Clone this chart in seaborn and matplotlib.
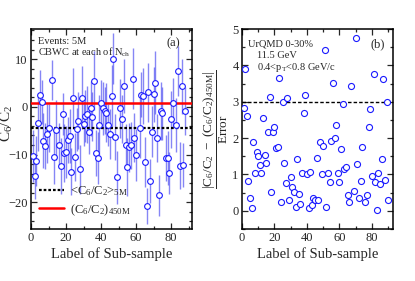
import matplotlib
matplotlib.use("Agg")
import matplotlib.pyplot as plt
from matplotlib.lines import Line2D
from matplotlib.ticker import MultipleLocator
import pandas as pd
import seaborn as sns

# panel (a): C6/C2 of each 5M-event sub-sample and its error
label_a = [1, 2, 3, 4, 5, 6, 7, 8, 9, 10,
           12, 13, 14, 16, 17, 18, 19, 20, 21, 22,
           23, 24, 25, 26, 27, 28, 29, 30, 31, 32,
           33, 34, 35, 36, 37, 38, 39, 40, 41, 42,
           43, 44, 45, 46, 47, 48, 49, 51, 52, 53,
           54, 55, 56, 57, 58, 59, 60, 62, 63, 64,
           65, 66, 67, 68, 69, 70, 71, 72, 73, 74,
           75, 77, 78, 79, 80, 81, 83, 84, 85, 86,
           87, 88]
c6c2 = [-10.3, -14.6, -11.3, -3.3, 2.4, 1.0, -7.1, -8.2, -5.6, -4.4,
        5.7, -10.5, -4.9, -8.1, -12.4, -1.6, -9.7, -9.5, -6.9, -6.1,
        -13.6, 1.8, -10.5, -4.7, -2.9, -13.1, 1.9, -3.5, -1.9, -1.6,
        -5.2, -0.3, -2.1, 5.5, -9.7, -10.7, -3.9, 0.9, -0.3, -0.8,
        -1.2, -3.9, -5.7, 2.2, 10.1, -6.4, -14.8, -0.3, -2.5, 4.4,
        -8.1, -12.6, -8.5, -8.1, 5.9, -6.5, -10.1, -4.4, 2.5, 2.3,
        -11.6, -20.8, 3.0, -15.5, -5.2, 2.6, 5.0, -6.6, -18.5, -0.8,
        -1.4, -10.7, -10.7, -13.8, -2.6, 0.8, -3.8, 7.5, -12.3, 4.3,
        -12.1, -0.9]
c6c2_err = [5.5, 4.8, 5.2, 6.0, 5.3, 4.6, 5.8, 4.9, 6.2, 5.0,
            4.2, 5.6, 6.3, 4.7, 5.9, 4.4, 6.1, 5.4, 4.8, 5.7,
            4.9, 6.4, 5.1, 4.5, 5.9, 5.2, 6.6, 4.8, 5.5, 6.0,
            4.6, 5.8, 5.1, 6.2, 4.9, 5.4, 6.3, 4.7, 5.6, 5.0,
            6.1, 4.4, 5.3, 6.5, 5.3, 4.8, 5.6, 6.2, 5.0, 5.7,
            4.6, 6.0, 5.2, 4.9, 6.4, 5.1, 5.5, 6.3, 4.7, 5.9,
            5.2, 3.8, 6.2, 4.6, 5.4, 5.8, 6.6, 5.0, 4.3, 6.1,
            5.5, 4.8, 5.7, 4.4, 6.0, 5.3, 5.6, 5.2, 4.9, 5.8,
            4.6, 5.1]

mean_5m = -4.5      # <C6/C2> over all 5M sub-samples
value_450m = 0.7    # C6/C2 from the full 450M sample

# panel (b): |C6/C2 - (C6/C2)_450M| / Error for each sub-sample
label_b = [1, 2, 3, 4, 5, 6, 7, 8, 9, 10,
           11, 12, 13, 14, 15, 16, 17, 18, 19, 20,
           21, 22, 23, 24, 25, 26, 27, 28, 29, 30,
           31, 32, 33, 34, 35, 36, 37, 38, 39, 40,
           41, 42, 43, 44, 45, 46, 47, 48, 49, 50,
           51, 52, 53, 54, 55, 56, 57, 58, 59, 60,
           61, 62, 63, 64, 65, 66, 67, 69, 70, 71,
           72, 73, 74, 76, 77, 78, 79, 80, 81, 82,
           83, 84, 85, 86, 87, 88, 89, 90]
deviation = [2.84, 3.91, 2.61, 0.81, 0.35, 0.07, 1.88, 1.03, 1.63, 1.52,
             1.27, 1.05, 2.55, 1.53, 1.31, 2.17, 3.14, 0.53, 2.18, 2.31,
             1.72, 1.75, 3.65, 0.25, 2.99, 1.32, 0.77, 3.11, 0.29, 0.92,
             0.66, 0.52, 0.10, 1.42, 0.47, 0.19, 1.03, 2.69, 3.19, 1.00,
             0.07, 1.07, 0.17, 0.35, 0.29, 1.46, 0.31, 1.89, 1.02, 1.77,
             4.42, 0.10, 1.03, 0.80, 1.93, 3.52, 1.99, 2.35, 1.05, 0.78,
             1.69, 2.94, 1.16, 1.20, 0.43, 0.25, 3.44, 0.54, 4.76, 1.30,
             0.35, 0.81, 1.75, 0.25, 0.43, 2.31, 2.79, 0.95, 3.77, 0.80,
             0.02, 1.03, 0.75, 1.43, 3.62, 0.84, 2.99, 0.30]

df_a = pd.DataFrame({"label": label_a, "c6c2": c6c2, "err": c6c2_err})
df_b = pd.DataFrame({"label": label_b, "dev": deviation})

sns.set_style("ticks")
plt.rcParams["font.family"] = ["Liberation Serif", "DejaVu Serif"]
plt.rcParams["mathtext.fontset"] = "custom"
plt.rcParams["mathtext.rm"] = "Liberation Serif"
plt.rcParams["mathtext.it"] = "Liberation Serif"
plt.rcParams["mathtext.bf"] = "Liberation Serif:bold"

fig = plt.figure(figsize=(4.15, 2.81), dpi=100)
ax_a = fig.add_axes([31 / 415, 52 / 281, 161 / 415, 200 / 281])
ax_b = fig.add_axes([242 / 415, 52 / 281, 151 / 415, 200 / 281])

point_color = "#1a1aff"
bar_color = "#4646f0"

# --- panel (a)
ax_a.errorbar(df_a["label"], df_a["c6c2"], yerr=df_a["err"], fmt="none",
              ecolor=bar_color, elinewidth=1.0, alpha=0.65, zorder=2)
ax_a.axhline(value_450m, color="red", lw=1.8, zorder=3)
ax_a.axhline(mean_5m, color="black", lw=1.6, ls=(0, (1.2, 0.9)), zorder=3)
sns.scatterplot(data=df_a, x="label", y="c6c2", ax=ax_a, marker="o", s=17,
                facecolor="white", edgecolor=point_color, linewidth=0.8,
                zorder=4, legend=False)
ax_a.set_xlim(0, 92)
ax_a.set_ylim(-25.6, 16.3)
ax_a.yaxis.set_major_locator(MultipleLocator(10))
ax_a.yaxis.set_minor_locator(MultipleLocator(2))
ax_a.set_ylabel(r"C$_6$/C$_2$", fontsize=11)
ax_a.yaxis.set_label_coords(-0.1, 0.53)
ax_a.text(0.043, 0.935, "Events: 5M", transform=ax_a.transAxes,
          fontsize=7.5, va="center")
ax_a.text(0.043, 0.885, r"CBWC at each of N$_{\rm ch}$",
          transform=ax_a.transAxes, fontsize=7.5, va="center")
ax_a.text(0.884, 0.928, "(a)", transform=ax_a.transAxes, fontsize=9,
          ha="center", va="center")
handles = [Line2D([], [], color="black", lw=1.6, ls=(0, (1.2, 0.9))),
           Line2D([], [], color="red", lw=1.8)]
ax_a.legend(handles, [r"<C$_6$/C$_2$>$_{\rm 5M}$", r"(C$_6$/C$_2$)$_{\rm 450M}$"],
            loc="lower left", bbox_to_anchor=(0.0, 0.02), frameon=False,
            fontsize=9, handlelength=2.0, handletextpad=0.5,
            labelspacing=0.35, borderaxespad=0.2)

# --- panel (b)
ax_b.axhline(3, color="black", lw=1.0, ls=(0, (2.5, 1.5)), zorder=2)
sns.scatterplot(data=df_b, x="label", y="dev", ax=ax_b, marker="o", s=19,
                facecolor="white", edgecolor=point_color, linewidth=0.8,
                zorder=4, legend=False)
ax_b.set_xlim(0, 93)
ax_b.set_ylim(-0.5, 5.0)
ax_b.yaxis.set_major_locator(MultipleLocator(1))
ax_b.yaxis.set_minor_locator(MultipleLocator(0.5))
ax_b.set_ylabel(r"$\dfrac{|C_6/C_2\ -\ (C_6/C_2)_{450M}|}{Error}$", fontsize=9.5)
ax_b.yaxis.set_label_coords(-0.078, 0.5)
ax_b.text(0.042, 0.923, "UrQMD 0-30%", transform=ax_b.transAxes,
          fontsize=7.5, va="center")
ax_b.text(0.097, 0.867, "11.5 GeV", transform=ax_b.transAxes,
          fontsize=7.5, va="center")
ax_b.text(0.097, 0.81, r"0.4<p$_{\rm T}$<0.8 GeV/c", transform=ax_b.transAxes,
          fontsize=7.5, va="center")
ax_b.text(0.896, 0.923, "(b)", transform=ax_b.transAxes, fontsize=9,
          ha="center", va="center")

for ax in (ax_a, ax_b):
    ax.xaxis.set_major_locator(MultipleLocator(20))
    ax.xaxis.set_minor_locator(MultipleLocator(10))
    ax.set_xlabel("Label of Sub-sample", fontsize=10.5, labelpad=2)
    ax.tick_params(which="both", direction="in", top=True, right=True,
                   labelsize=9, width=0.9, pad=2.5)
    ax.tick_params(which="major", length=4.5)
    ax.tick_params(which="minor", length=2.5)
    for spine in ax.spines.values():
        spine.set_linewidth(1.1)
        spine.set_color("black")

fig.savefig("out.png", dpi=100)
